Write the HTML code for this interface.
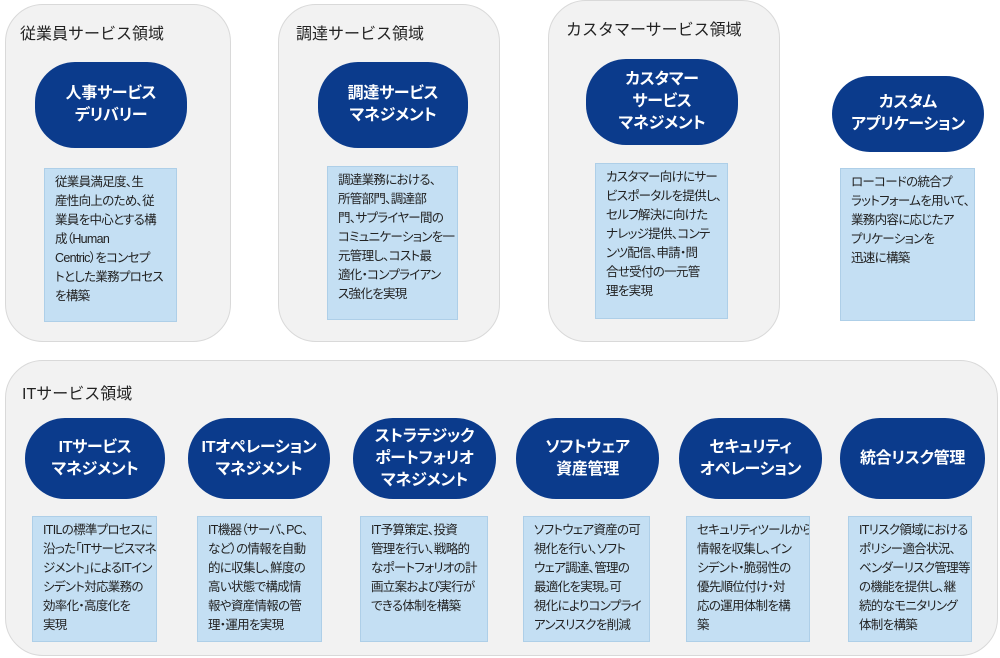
<!DOCTYPE html><html><head><meta charset="utf-8"><style>
body{margin:0;width:1000px;height:658px;background:#fff;position:relative;overflow:hidden;font-family:"Liberation Sans","Noto Sans CJK JP",sans-serif}
.p{position:absolute;background:#f2f2f2;border:1px solid #d9d9d9;border-radius:38px;box-sizing:border-box}
.t{position:absolute;font-size:16px;color:#222}
.pill{position:absolute;background:#0b3b8c;color:#fff;border-radius:40px;display:flex;align-items:center;justify-content:center;text-align:center;font-size:16px;font-weight:bold;line-height:22px;font-feature-settings:"palt";letter-spacing:-0.3px}
.b{position:absolute;background:#c4dff3;border:1px solid #aecfe8;box-sizing:border-box;font-size:12.5px;line-height:19px;color:#222;padding:4px 0 0 10px;white-space:nowrap;font-feature-settings:"palt";letter-spacing:-0.7px;overflow:hidden}
</style></head><body>
<div class="p" style="left:5px;top:4px;width:226px;height:338px"></div>
<div class="p" style="left:278px;top:4px;width:222px;height:338px"></div>
<div class="p" style="left:548px;top:0px;width:232px;height:342px"></div>
<div class="p" style="left:5px;top:360px;width:993px;height:296px"></div>
<div class="t" style="left:20px;top:20px">従業員サービス領域</div>
<div class="t" style="left:296px;top:20px">調達サービス領域</div>
<div class="t" style="left:566px;top:16px">カスタマーサービス領域</div>
<div class="t" style="left:22px;top:380px">ITサービス領域</div>

<div class="pill" style="left:35px;top:62px;width:152px;height:86px">人事サービス<br>デリバリー</div>
<div class="pill" style="left:318px;top:62px;width:150px;height:86px">調達サービス<br>マネジメント</div>
<div class="pill" style="left:586px;top:59px;width:152px;height:86px">カスタマー<br>サービス<br>マネジメント</div>
<div class="pill" style="left:832px;top:76px;width:152px;height:76px">カスタム<br>アプリケーション</div>

<div class="b" style="left:44px;top:168px;width:133px;height:154px">従業員満足度、生<br>産性向上のため、従<br>業員を中心とする構<br>成（Human<br>Centric）をコンセプ<br>トとした業務プロセス<br>を構築</div>
<div class="b" style="left:327px;top:166px;width:131px;height:154px">調達業務における、<br>所管部門、調達部<br>門、サプライヤー間の<br>コミュニケーションを一<br>元管理し、コスト最<br>適化・コンプライアン<br>ス強化を実現</div>
<div class="b" style="left:595px;top:163px;width:133px;height:156px">カスタマー向けにサー<br>ビスポータルを提供し、<br>セルフ解決に向けた<br>ナレッジ提供、コンテ<br>ンツ配信、申請・問<br>合せ受付の一元管<br>理を実現</div>
<div class="b" style="left:840px;top:168px;width:135px;height:153px">ローコードの統合プ<br>ラットフォームを用いて、<br>業務内容に応じたア<br>プリケーションを<br>迅速に構築</div>

<div class="pill" style="left:25px;top:418px;width:140px;height:81px">ITサービス<br>マネジメント</div>
<div class="pill" style="left:188px;top:418px;width:142px;height:81px">ITオペレーション<br>マネジメント</div>
<div class="pill" style="left:353px;top:418px;width:143px;height:81px">ストラテジック<br>ポートフォリオ<br>マネジメント</div>
<div class="pill" style="left:516px;top:418px;width:143px;height:81px">ソフトウェア<br>資産管理</div>
<div class="pill" style="left:679px;top:418px;width:143px;height:81px">セキュリティ<br>オペレーション</div>
<div class="pill" style="left:840px;top:418px;width:145px;height:81px">統合リスク管理</div>

<div class="b" style="left:32px;top:516px;width:125px;height:126px">ITILの標準プロセスに<br>沿った「ITサービスマネ<br>ジメント」によるITイン<br>シデント対応業務の<br>効率化・高度化を<br>実現</div>
<div class="b" style="left:197px;top:516px;width:125px;height:126px">IT機器（サーバ、PC、<br>など）の情報を自動<br>的に収集し、鮮度の<br>高い状態で構成情<br>報や資産情報の管<br>理・運用を実現</div>
<div class="b" style="left:360px;top:516px;width:128px;height:126px">IT予算策定、投資<br>管理を行い、戦略的<br>なポートフォリオの計<br>画立案および実行が<br>できる体制を構築</div>
<div class="b" style="left:523px;top:516px;width:127px;height:126px">ソフトウェア資産の可<br>視化を行い、ソフト<br>ウェア調達、管理の<br>最適化を実現。可<br>視化によりコンプライ<br>アンスリスクを削減</div>
<div class="b" style="left:686px;top:516px;width:124px;height:126px">セキュリティツールから<br>情報を収集し、イン<br>シデント・脆弱性の<br>優先順位付け・対<br>応の運用体制を構<br>築</div>
<div class="b" style="left:848px;top:516px;width:124px;height:126px">ITリスク領域における<br>ポリシー適合状況、<br>ベンダーリスク管理等<br>の機能を提供し、継<br>続的なモニタリング<br>体制を構築</div>
</body></html>
